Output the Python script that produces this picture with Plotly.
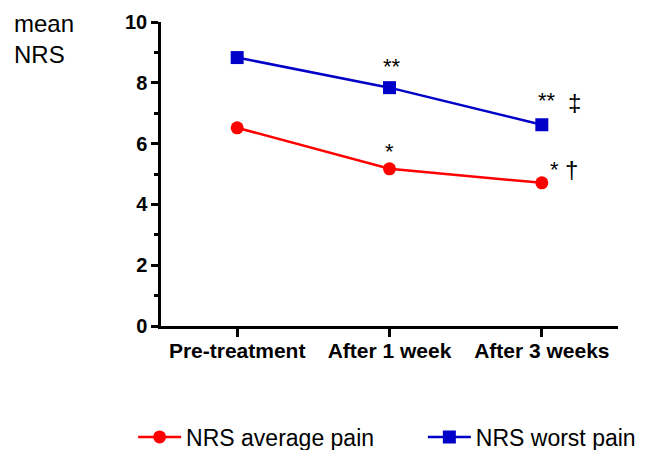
import plotly.graph_objects as go

categories = ["Pre-treatment", "After 1 week", "After 3 weeks"]
avg_pain = [6.52, 5.17, 4.71]
worst_pain = [8.83, 7.84, 6.62]
y_ticks = [0, 2, 4, 6, 8, 10]

# significance marks: (series, category index, text, font size, xshift, yshift)
marks = [
    ("worst", 1, "**", 22, 2, 21),
    ("worst", 2, "**", 22, 5, 24),
    ("worst", 2, "‡", 24, 33, 22),
    ("avg", 1, "*", 22, 0, 17),
    ("avg", 2, "*", 22, 13, 13),
    ("avg", 2, "†", 24, 30, 13),
]

FONT = "Liberation Sans, Arial, sans-serif"
RED = "#FF0000"
BLUE = "#0000C8"

xs = list(range(len(categories)))

fig = go.Figure()
fig.add_trace(go.Scatter(
    x=xs, y=avg_pain, mode="lines+markers", name="NRS average pain",
    line=dict(color=RED, width=2.5),
    marker=dict(symbol="circle", size=13, color=RED),
    legend="legend",
))
fig.add_trace(go.Scatter(
    x=xs, y=worst_pain, mode="lines+markers", name="NRS worst pain",
    line=dict(color=BLUE, width=2.5),
    marker=dict(symbol="square", size=13, color=BLUE),
    legend="legend2",
))

series = {"avg": avg_pain, "worst": worst_pain}
for s, i, txt, fs, dx, dy in marks:
    fig.add_annotation(
        x=xs[i], y=series[s][i], xref="x", yref="y", text=txt,
        showarrow=False, xshift=dx, yshift=dy,
        font=dict(family=FONT, size=fs, color="#000000"),
    )

fig.add_annotation(
    x=-0.326, y=1.045, xref="paper", yref="paper", xanchor="left", yanchor="top",
    text="mean<br>NRS", showarrow=False, align="left",
    font=dict(family=FONT, size=24, color="#000000"),
)

legend_common = dict(
    orientation="h", y=-0.365, xanchor="left", yanchor="middle",
    font=dict(family=FONT, size=23, color="#000000"),
    itemwidth=43, bgcolor="rgba(0,0,0,0)",
)

fig.update_layout(
    width=656, height=450,
    margin=dict(l=161, r=38, t=22, b=124, autoexpand=False),
    plot_bgcolor="white", paper_bgcolor="white",
    showlegend=True,
    legend=dict(x=-0.061, **legend_common),
    legend2=dict(x=0.573, **legend_common),
    xaxis=dict(
        range=[-0.5, 2.5], tickvals=xs, ticktext=[f"<b>{c}</b>" for c in categories],
        showline=True, linecolor="black", linewidth=2.5,
        ticks="outside", ticklen=8, tickwidth=2.5, tickcolor="black",
        ticklabelstandoff=-4,
        showgrid=False, zeroline=False, automargin=False,
        tickfont=dict(family=FONT, size=21, color="#000000"),
    ),
    yaxis=dict(
        range=[0, 10], tickvals=y_ticks, ticktext=[f"<b>{v}</b>" for v in y_ticks],
        showline=True, linecolor="black", linewidth=2.5,
        ticks="outside", ticklen=7, tickwidth=2.5, tickcolor="black",
        minor=dict(dtick=1, ticks="outside", ticklen=4, tickwidth=2.5, tickcolor="black", showgrid=False),
        showgrid=False, zeroline=False, automargin=False,
        tickfont=dict(family=FONT, size=20, color="#000000"),
    ),
)

fig.write_html(
    "out.html",
    config={"displayModeBar": False},
    post_script="document.body.style.margin='0';document.body.style.overflow='hidden';",
)
